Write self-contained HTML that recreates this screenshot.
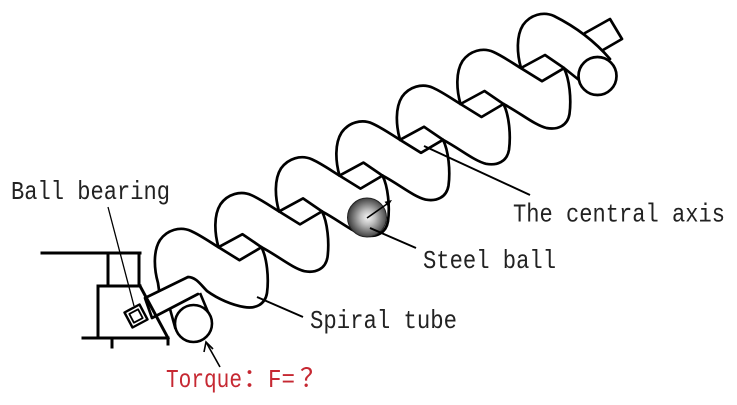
<!DOCTYPE html>
<html>
<head>
<meta charset="utf-8">
<style>
  html,body{margin:0;padding:0;background:#fff;}
  svg{display:block;}
  .t{font-family:"Liberation Mono","Noto Sans CJK SC",monospace;font-size:26px;fill:#222;}
  .r{fill:#c62832;}
</style>
</head>
<body>
<svg width="737" height="405" viewBox="0 0 737 405" xmlns="http://www.w3.org/2000/svg">
  <defs>
    <radialGradient id="ballg" cx="52%" cy="50%" r="55%">
      <stop offset="0%" stop-color="#f6f6f6"/>
      <stop offset="35%" stop-color="#bdbdbd"/>
      <stop offset="80%" stop-color="#5a5a5a"/>
      <stop offset="100%" stop-color="#2e2e2e"/>
    </radialGradient>
  </defs>

  <!-- bracket / frame -->
  <g stroke="#000" stroke-width="3" fill="none" stroke-linecap="square">
    <line x1="42" y1="253" x2="140" y2="253"/>
    <line x1="108" y1="253" x2="108" y2="286"/>
    <line x1="139" y1="253" x2="139" y2="286"/>
    <line x1="98" y1="286" x2="140" y2="286"/>
    <line x1="98" y1="286" x2="98" y2="338"/>
    <line x1="83" y1="338" x2="168" y2="338"/>
    <line x1="140" y1="286" x2="168" y2="338"/>
    <line x1="112" y1="338" x2="112" y2="347"/>
    <line x1="168" y1="338" x2="168" y2="344"/>
  </g>

  <!-- spiral coils -->
  <g stroke="#000" stroke-width="2.7" fill="none" stroke-linejoin="round" stroke-linecap="round">
    <!-- coil 0 -->
    <g transform="translate(158,283)">
      <path d="M1,7 L0,0 C-4,-14 -5,-32 2,-43 C9,-53 22,-57 33,-52 C42,-48 52,-41 60.5,-35.8 L81.5,-22.8 L103.5,-35.8"/>
      <path d="M103.5,-35.8 C109,-25 111,-5 109,10 C107,22 97,26 86,24 C74,22 60,16 49,8 C43,2 38,-6 30,-6 L-13,15 L-6,35 L40,11"/>
    </g>
    <!-- coils 1..5 -->
    <g transform="translate(218.5,247.2)">
      <path d="M0,0 C-4,-14 -5,-32 2,-43 C9,-53 22,-57 33,-52 C42,-48 52,-41 60.5,-35.8 L81.5,-22.8 L103.5,-35.8"/>
      <path d="M103.5,-35.8 C109,-25 111,-5 109,10 C107,22 97,26 86,24 C74,21 60,9 43,0 L24,-13 L0,0"/>
    </g>
    <g transform="translate(279,211.4)">
      <path d="M0,0 C-4,-14 -5,-32 2,-43 C9,-53 22,-57 33,-52 C42,-48 52,-41 60.5,-35.8 L81.5,-22.8 L103.5,-35.8"/>
      <path d="M103.5,-35.8 C109,-25 111,-5 109,10 C107,22 97,26 86,24 C74,21 60,9 43,0 L24,-13 L0,0"/>
    </g>
    <g transform="translate(339.5,175.6)">
      <path d="M0,0 C-4,-14 -5,-32 2,-43 C9,-53 22,-57 33,-52 C42,-48 52,-41 60.5,-35.8 L81.5,-22.8 L103.5,-35.8"/>
      <path d="M103.5,-35.8 C109,-25 111,-5 109,10 C107,22 97,26 86,24 C74,21 60,9 43,0 L24,-13 L0,0"/>
    </g>
    <g transform="translate(400,139.8)">
      <path d="M0,0 C-4,-14 -5,-32 2,-43 C9,-53 22,-57 33,-52 C42,-48 52,-41 60.5,-35.8 L81.5,-22.8 L103.5,-35.8"/>
      <path d="M103.5,-35.8 C109,-25 111,-5 109,10 C107,22 97,26 86,24 C74,21 60,9 43,0 L24,-13 L0,0"/>
    </g>
    <g transform="translate(460.5,104)">
      <path d="M0,0 C-4,-14 -5,-32 2,-43 C9,-53 22,-57 33,-52 C42,-48 52,-41 60.5,-35.8 L81.5,-22.8 L103.5,-35.8"/>
      <path d="M103.5,-35.8 C109,-25 111,-5 109,10 C107,22 97,26 86,24 C74,21 60,9 43,0 L24,-13 L0,0"/>
    </g>
    <!-- coil 6 (end) -->
    <path d="M521,68 C517,54 516,36 523,25 C530,15 543,11 554,16 C570,24 592,38 610,59"/>
    <path d="M579,80 L564,68 L545,55 L521,68"/>
    <!-- end cap and shaft -->
    <circle cx="597.5" cy="76" r="19" fill="#fff"/>
    <polyline points="585,33 610,19 622,39 603,50"/>
  </g>

  <!-- pulley below arm -->
  <g stroke="#000" stroke-width="2.6" fill="none">
    <line x1="170" y1="309" x2="175.5" y2="329"/>
    <line x1="200" y1="293" x2="210.5" y2="318"/>
    <circle cx="193.5" cy="323.5" r="18.5" fill="#fff"/>
  </g>

  <!-- ball bearing -->
  <g stroke="#000" stroke-width="2.4" fill="#fff" stroke-linejoin="round">
    <polygon points="124.5,312.5 139.5,304.5 147.5,319.5 132.5,327.5"/>
    <polygon points="129.3,313.9 138.1,309.3 142.7,318.1 133.9,322.7" stroke-width="1.8"/>
  </g>

  <!-- steel ball -->
  <circle cx="367" cy="217.5" r="19.5" fill="url(#ballg)" stroke="#222" stroke-width="1"/>
  <line x1="367" y1="218" x2="387" y2="204" stroke="#000" stroke-width="1.6"/>
  <polygon points="392,200 388,206.5 384.6,201.7" fill="#000"/>

  <!-- leader lines -->
  <g stroke="#000" fill="none">
    <line x1="424" y1="146" x2="530" y2="195" stroke-width="2"/>
    <line x1="370" y1="228" x2="416" y2="248" stroke-width="2"/>
    <line x1="257" y1="297" x2="303" y2="317" stroke-width="2"/>
    <line x1="108" y1="207" x2="134" y2="306" stroke-width="1.3"/>
    <line x1="220" y1="367" x2="206" y2="342" stroke-width="1.6"/>
    <polyline points="204,352 206,342 213,349" stroke-width="1.6"/>
  </g>

  <!-- labels -->
  <text class="t" x="11" y="199" textLength="159" lengthAdjust="spacingAndGlyphs">Ball bearing</text>
  <text class="t" x="513" y="221.5" textLength="212" lengthAdjust="spacingAndGlyphs">The central axis</text>
  <text class="t" x="423" y="268" textLength="133" lengthAdjust="spacingAndGlyphs">Steel ball</text>
  <text class="t" x="310" y="328" textLength="147" lengthAdjust="spacingAndGlyphs">Spiral tube</text>
  <text class="t r" x="166" y="387" textLength="76" lengthAdjust="spacingAndGlyphs">Torque</text>
  <text class="t r" x="243" y="387">：</text>
  <text class="t r" x="268" y="387" textLength="27" lengthAdjust="spacingAndGlyphs">F=</text>
  <text class="t r" x="300" y="387">？</text>
</svg>
</body>
</html>
